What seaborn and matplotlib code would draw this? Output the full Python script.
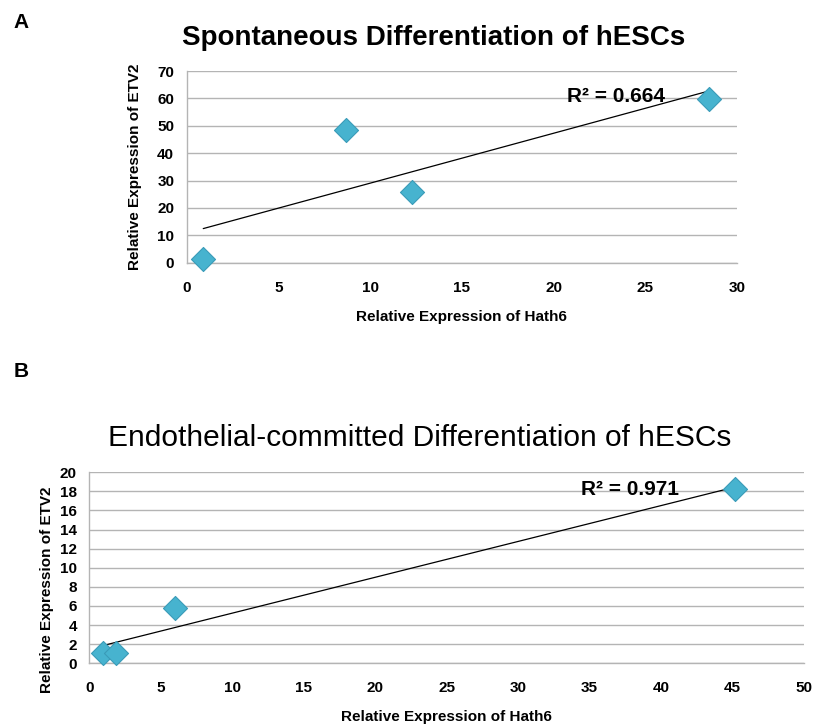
import numpy as np
import pandas as pd
import matplotlib
matplotlib.use("Agg")
import matplotlib.pyplot as plt
import seaborn as sns

# data
a_hath6 = [0.9, 8.7, 12.3, 28.5]
a_etv2 = [1.2, 48.5, 25.7, 59.7]
b_hath6 = [0.95, 1.85, 6.0, 45.2]
b_etv2 = [1.1, 1.1, 5.8, 18.25]

a_title = "Spontaneous Differentiation of hESCs"
b_title = "Endothelial-committed Differentiation of hESCs"
x_label = "Relative Expression of Hath6"
y_label = "Relative Expression of ETV2"
a_r2 = "R² = 0.664"
b_r2 = "R² = 0.971"

df_a = pd.DataFrame({"hath6": a_hath6, "etv2": a_etv2})
df_b = pd.DataFrame({"hath6": b_hath6, "etv2": b_etv2})

sns.set_style("white")
plt.rcParams["font.family"] = ["Liberation Sans", "DejaVu Sans"]
plt.rcParams["text.color"] = "black"
plt.rcParams["axes.labelcolor"] = "black"
plt.rcParams["xtick.color"] = "black"
plt.rcParams["ytick.color"] = "black"

fig = plt.figure(figsize=(8.14, 7.26), dpi=100)
ax_a = fig.add_axes([0.2294, 0.6382, 0.676, 0.264])
ax_b = fig.add_axes([0.1097, 0.0864, 0.878, 0.2631])

grid_col = "#b4b4b4"
marker_col = "#47b3cf"


def draw_panel(ax, df, xmax, xstep, ymax, ystep, r2, r2pos, ylab_xy):
    ax.set_axisbelow(True)
    ax.yaxis.grid(True, color=grid_col, lw=1)
    sns.regplot(data=df, x="hath6", y="etv2", ax=ax, scatter=False, ci=None,
                line_kws={"color": "black", "lw": 0.9})
    sns.scatterplot(data=df, x="hath6", y="etv2", ax=ax, marker="D", s=150,
                    color=marker_col, edgecolor="#3a9bb8", linewidth=0.8, zorder=3,
                    clip_on=False)
    ax.set_xlim(0, xmax)
    ax.set_ylim(0, ymax)
    ax.set_xticks(np.arange(0, xmax + 0.1, xstep))
    ax.set_yticks(np.arange(0, ymax + 0.1, ystep))
    ax.tick_params(length=0, labelsize=11)
    ax.tick_params(axis="x", pad=13)
    ax.tick_params(axis="y", pad=9)
    for lab in ax.get_xticklabels() + ax.get_yticklabels():
        lab.set_fontweight("bold")
    for side in ["top", "right"]:
        ax.spines[side].set_visible(False)
    for side in ["left", "bottom"]:
        ax.spines[side].set_color(grid_col)
        ax.spines[side].set_linewidth(1)
    ax.set_xlabel(x_label, fontsize=11, fontweight="bold")
    ax.set_ylabel(y_label, fontsize=11, fontweight="bold")
    ax.xaxis.set_label_coords(0.5, -0.245)
    ax.yaxis.set_label_coords(*ylab_xy)
    ax.text(r2pos[0], r2pos[1], r2, fontsize=15, fontweight="bold",
            ha="center", va="center")


draw_panel(ax_a, df_a, 30, 5, 70, 10, a_r2, (23.4, 60.6), (-0.081, 0.5))
draw_panel(ax_b, df_b, 50, 5, 20, 2, b_r2, (37.8, 18.15), (-0.049, 0.384))

fig.text(434 / 814, 1 - 38 / 726, a_title, fontsize=20, fontweight="bold",
         ha="center", va="center")
fig.text(420 / 814, 1 - 438 / 726, b_title, fontsize=21.5, fontweight="normal",
         ha="center", va="center")

fig.text(21 / 814, 1 - 22 / 726, "A", fontsize=15, fontweight="bold", ha="center", va="center")
fig.text(21 / 814, 1 - 372 / 726, "B", fontsize=15, fontweight="bold", ha="center", va="center")

plt.savefig("out.png", dpi=100)
